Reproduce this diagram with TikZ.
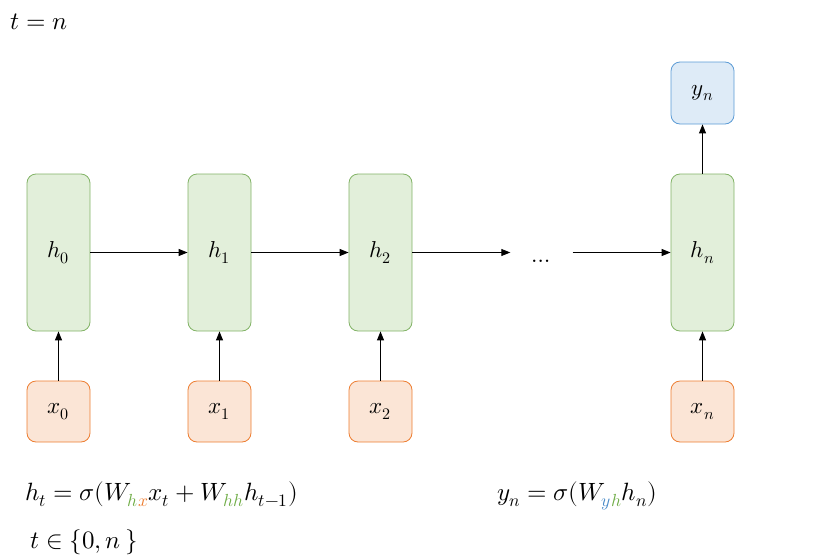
\documentclass[tikz,border=0pt]{standalone}
\usepackage{unicode-math}
\setmathfont{Latin Modern Math}
\usetikzlibrary{arrows.meta}
\definecolor{gfill}{HTML}{E2EFDA}
\definecolor{gdraw}{HTML}{82B366}
\definecolor{ofill}{HTML}{FBE5D6}
\definecolor{odraw}{HTML}{ED7D31}
\definecolor{bfill}{HTML}{DEEBF7}
\definecolor{bdraw}{HTML}{5B9BD5}
\definecolor{subg}{HTML}{70AD47}
\definecolor{subo}{HTML}{ED7D31}
\definecolor{subb}{HTML}{4A8BC8}
\begin{document}
\begin{tikzpicture}[x=1pt,y=-1pt,
  every node/.style={font=\fontsize{23}{27}\selectfont},
  formula/.style={anchor=base west,inner sep=0pt,font=\fontsize{25}{30}\selectfont},
  hbox/.style={draw=gdraw,fill=gfill,rounded corners=9pt,minimum width=63pt,minimum height=157pt,inner sep=0pt,line width=0.8pt},
  xbox/.style={draw=odraw,fill=ofill,rounded corners=9pt,minimum width=63pt,minimum height=61pt,inner sep=0pt,line width=0.8pt},
  ybox/.style={draw=bdraw,fill=bfill,rounded corners=9pt,minimum width=63pt,minimum height=62pt,inner sep=0pt,line width=0.8pt},
  conn/.style={-{Triangle[length=9pt,width=7pt]},line width=0.9pt,black}]
\useasboundingbox (0,0) rectangle (813,557);
\node (h0) [hbox] at (58.5,252.5) {$h_0$};
\node (h1) [hbox] at (219.5,252.5) {$h_1$};
\node (h2) [hbox] at (380.5,252.5) {$h_2$};
\node (hn) [hbox] at (702.5,252.5) {$h_n$};
\node (x0) [xbox] at (58.5,411.5) {$x_0$};
\node (x1) [xbox] at (219.5,411.5) {$x_1$};
\node (x2) [xbox] at (380.5,411.5) {$x_2$};
\node (xn) [xbox] at (702.5,411.5) {$x_n$};
\node (yn) [ybox] at (702.5,93) {$y_n$};
\node (dots) [minimum width=62pt,inner sep=0pt,text height=20pt,text depth=0pt] at (541.5,252.5) {$\ldots$};
\draw[conn] (h0) -- (h1);
\draw[conn] (h1) -- (h2);
\draw[conn] (h2) -- (dots);
\draw[conn] (dots) -- (hn);
\draw[conn] (hn) -- (yn);
\draw[conn] (x0) -- (h0);
\draw[conn] (x1) -- (h1);
\draw[conn] (x2) -- (h2);
\draw[conn] (xn) -- (hn);
\node (tn) [formula] at (10,29) {$t=n$};
\node (fh) [formula] at (25,500) {$h_t=\sigma(W_{{\color{subg}h}{\color{subo}x}}x_t+W_{{\color{subg}hh}}h_{t-1})$};
\node (fy) [formula] at (497,500) {$y_n=\sigma(W_{{\color{subb}y}{\color{subg}h}}h_n)$};
\node (tr) [formula] at (30,548) {$t\in\{0,n\,\}$};
\end{tikzpicture}
\end{document}
